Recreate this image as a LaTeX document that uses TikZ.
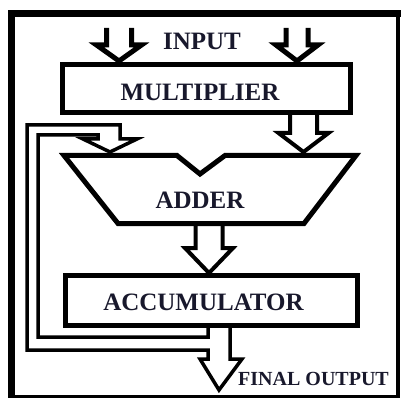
\documentclass[tikz,border=0pt]{standalone}
\usepackage{fontspec}
\setmainfont{Liberation Serif}
\definecolor{txt}{HTML}{18182C}
\newcommand\blkdown[8]{% name, x, ytop, yhead, ytip, shafthalf, headhalf, linewidth
  \draw[line width=#8, line join=miter] (#2-#6,#3) -- (#2-#6,#4) -- (#2-#7,#4) -- (#2,#5)
    coordinate (#1) -- (#2+#7,#4) -- (#2+#6,#4) -- (#2+#6,#3);}
\begin{document}
\begin{tikzpicture}[x=1pt,y=-1pt,
  box/.style={draw, line width=5pt, inner sep=0pt, rectangle},
  lbl/.style={font=\bfseries\fontsize{25}{26}\selectfont, text=txt, inner sep=0pt,
    text height=16pt, text depth=0pt},
  small/.style={font=\bfseries\fontsize{20}{22}\selectfont, text=txt, inner sep=0pt,
    text height=13pt, text depth=0pt}]
\useasboundingbox (0,0) rectangle (401,398);
% frame
\draw[line width=3.5pt] (11.5,13.5) rectangle (398,397);
\draw[line width=7pt, line cap=rect] (11.5,397) -- (11.5,13.5) -- (398,13.5);
% multiplier
\node[box, minimum width=288pt, minimum height=48pt] (mul) at (206.5,88.5) {};
\node[lbl] (multxt) at (200,92.5) {MULTIPLIER};
% input
\node[lbl] (input) at (202,42) {INPUT};
\blkdown{inL}{119}{28}{45}{61}{12.5}{22.5}{5pt}
\blkdown{inR}{297}{28}{45}{61}{11}{21}{5pt}
% adder
\draw[line width=5pt, line join=miter]
  (64,155.5) -- (177,155.5) -- (200,174) -- (225,155.5) -- (356,155.5)
  -- (304,223.5) -- (118,223.5) -- cycle;
\node[lbl] (adder) at (200,200.5) {ADDER};
% multiplier to adder
\blkdown{m2a}{303.5}{115}{133}{152}{13.5}{25}{4pt}
% adder to accumulator
\blkdown{a2c}{209}{225}{248}{273}{13.5}{24}{4pt}
% accumulator
\node[box, minimum width=292pt, minimum height=50pt] (acc) at (211.5,300.5) {};
\node[lbl] (acctxt) at (203.5,302.5) {ACCUMULATOR};
% feedback + output
\draw[line width=3.5pt, line join=miter]
  (208,328) -- (208,337) -- (38,337) -- (38,135) -- (98,135) -- (98,139)
  -- (83,139) -- (110,152) coordinate (fbtip) -- (137,139) -- (120,139) -- (120,125)
  -- (27,125) -- (27,350) -- (208,350) -- (208,359) -- (200,359)
  -- (219,390) coordinate (outtip) -- (242,359) -- (230,359) -- (230,328);
\node[small] (final) at (313.5,379) {FINAL OUTPUT};
\end{tikzpicture}
\end{document}
